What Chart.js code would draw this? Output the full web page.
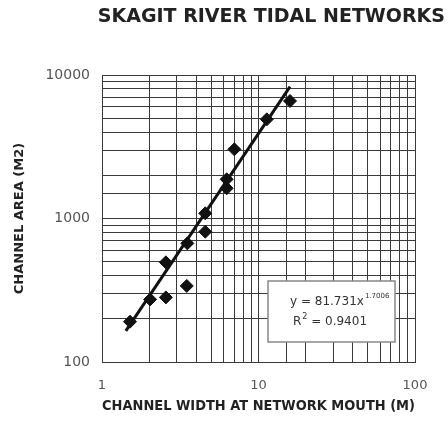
<!DOCTYPE html>
<html>
<head>
<meta charset="utf-8">
<script src="https://cdn.jsdelivr.net/npm/chart.js@4"></script>
<style>
  html, body { margin: 0; padding: 0; background: #fff; }
  #wrap { width: 448px; height: 429px; }
</style>
</head>
<body>
<div id="wrap"><canvas id="chart" width="448" height="429"></canvas></div>
<script>
// channel width at mouth (m) vs channel area (m2)
const widths = [1.51, 2.03, 2.56, 2.56, 3.48, 3.51, 4.57, 4.57, 6.26, 6.26, 7.01, 11.3, 15.9];
const areas  = [191, 273, 282, 495, 339, 671, 809, 1087, 1624, 1876, 3035, 4911, 6590];

// power trendline end points (as drawn)
const trendX = [1.42, 15.9];
const trendY = [165, 8290];

const xTicks = [1, 10, 100];
const yTicks = [100, 1000, 10000];

const titleText = "SKAGIT RIVER TIDAL NETWORKS";
const eqText = "y = 81.731x";
const eqExp = "1.7006";
const r2Text = "0.9401";

const FONT = "'DejaVu Sans', sans-serif";

// title + equation box
const decoPlugin = {
  id: 'deco',
  afterDraw(chart) {
    const { ctx, chartArea } = chart;
    ctx.save();
    ctx.fillStyle = '#222';
    ctx.font = `bold 19px ${FONT}`;
    ctx.textAlign = 'right';
    ctx.textBaseline = 'middle';
    ctx.fillText(titleText, 445, 17);

    // equation box, lower right of plot
    const bx = chartArea.right - 147, by = chartArea.bottom - 81;
    const bw = 127, bh = 61;
    ctx.fillStyle = '#fff';
    ctx.fillRect(bx, by, bw, bh);
    ctx.strokeStyle = '#888';
    ctx.lineWidth = 1.5;
    ctx.strokeRect(bx, by, bw, bh);

    ctx.fillStyle = '#333';
    ctx.textAlign = 'left';
    ctx.font = `12px ${FONT}`;
    ctx.fillText(eqText, bx + 22, by + 21);
    const w1 = ctx.measureText(eqText).width;
    ctx.font = `7px ${FONT}`;
    ctx.fillText(eqExp, bx + 22 + w1 + 1, by + 15);

    ctx.font = `12px ${FONT}`;
    ctx.fillText("R", bx + 25, by + 41);
    const wr = ctx.measureText("R").width;
    ctx.font = `8px ${FONT}`;
    ctx.fillText("2", bx + 25 + wr + 1, by + 36);
    ctx.font = `12px ${FONT}`;
    ctx.fillText(" = " + r2Text, bx + 25 + wr + 6, by + 41);
    ctx.restore();
  }
};

const logTick = (v) => (xTicks.includes(v) || yTicks.includes(v)) ? String(v) : '';

new Chart(document.getElementById('chart').getContext('2d'), {
  type: 'scatter',
  data: {
    datasets: [
      {
        label: 'Channels',
        data: widths.map((w, i) => ({ x: w, y: areas[i] })),
        pointStyle: 'rectRot',
        pointRadius: 6.5,
        backgroundColor: '#111',
        borderColor: '#111',
        borderWidth: 1
      },
      {
        label: 'Power trend',
        type: 'line',
        data: trendX.map((x, i) => ({ x: x, y: trendY[i] })),
        borderColor: '#111',
        borderWidth: 3,
        pointRadius: 0,
        fill: false
      }
    ]
  },
  options: {
    responsive: false,
    animation: false,
    layout: { padding: { top: 75, right: 33, left: 0, bottom: 0 } },
    plugins: {
      legend: { display: false },
      tooltip: { enabled: false }
    },
    scales: {
      x: {
        type: 'logarithmic',
        min: 1,
        max: 100,
        afterFit(scale) { scale.height = 67; },
        grid: { color: '#3a3a3a', lineWidth: 1, drawTicks: false },
        border: { color: '#3a3a3a' },
        ticks: {
          autoSkip: false,
          maxRotation: 0,
          padding: 16,
          color: '#555',
          font: { family: FONT, size: 13 },
          callback: logTick
        },
        title: {
          display: true,
          text: 'CHANNEL WIDTH AT NETWORK MOUTH (M)',
          color: '#222',
          font: { family: FONT, size: 14.5, weight: 'bold' },
          padding: { top: 0, bottom: 14 }
        }
      },
      y: {
        type: 'logarithmic',
        min: 100,
        max: 10000,
        afterFit(scale) { scale.width = 102; },
        grid: { color: '#3a3a3a', lineWidth: 1, drawTicks: false },
        border: { color: '#3a3a3a' },
        ticks: {
          autoSkip: false,
          padding: 12,
          color: '#555',
          font: { family: FONT, size: 14 },
          callback: logTick
        },
        title: {
          display: true,
          text: 'CHANNEL AREA (M2)',
          color: '#222',
          font: { family: FONT, size: 13, weight: 'bold' },
          padding: { top: 12, bottom: 0 }
        }
      }
    }
  },
  plugins: [decoPlugin]
});
</script>
</body>
</html>
